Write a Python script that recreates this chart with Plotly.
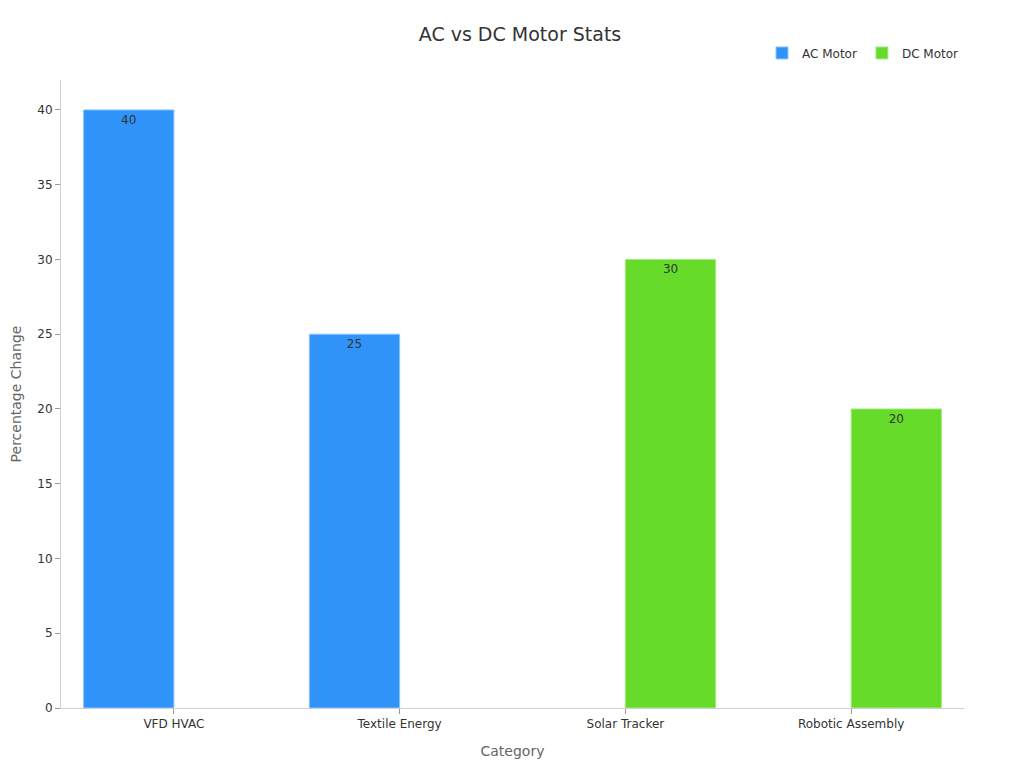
import plotly.graph_objects as go

categories = ["VFD HVAC", "Textile Energy", "Solar Tracker", "Robotic Assembly"]
ac_values = [40, 25, None, None]
dc_values = [None, None, 30, 20]

fig = go.Figure()
fig.add_trace(go.Bar(name="AC Motor", x=categories, y=ac_values, marker_color="#2f93fa",
                     marker_line=dict(color="#8cc4fc", width=1),
                     text=ac_values, textposition="inside", insidetextanchor="end",
                     textfont=dict(color="#333333", size=12)))
fig.add_trace(go.Bar(name="DC Motor", x=categories, y=dc_values, marker_color="#66db29",
                     marker_line=dict(color="#a6eb82", width=1),
                     text=dc_values, textposition="inside", insidetextanchor="end",
                     textfont=dict(color="#333333", size=12)))

fig.update_layout(
    title=dict(text="AC vs DC Motor Stats", x=0.5, xanchor="center", y=0.975, yanchor="top",
               font=dict(size=19, color="#333333")),
    font=dict(family="DejaVu Sans", size=12, color="#333333"),
    barmode="group", bargap=0.2, bargroupgap=0,
    plot_bgcolor="white", paper_bgcolor="white",
    width=1024, height=768,
    margin=dict(l=53, r=68, t=72, b=68),
    legend=dict(orientation="h", x=1, xanchor="right", y=1.02, yanchor="bottom",
                font=dict(size=12)),
    xaxis=dict(title=dict(text="Category", font=dict(size=14, color="#666666")),
               showline=True, linecolor="#d0d0d0", ticks="outside", tickcolor="#999999",
               automargin=False),
    yaxis=dict(title=dict(text="Percentage Change", font=dict(size=14, color="#666666")),
               range=[0, 42], dtick=5, showgrid=False, showline=True, linecolor="#d0d0d0",
               ticks="outside", tickcolor="#999999", zeroline=False, automargin=False),
)
fig.write_html("out.html")
